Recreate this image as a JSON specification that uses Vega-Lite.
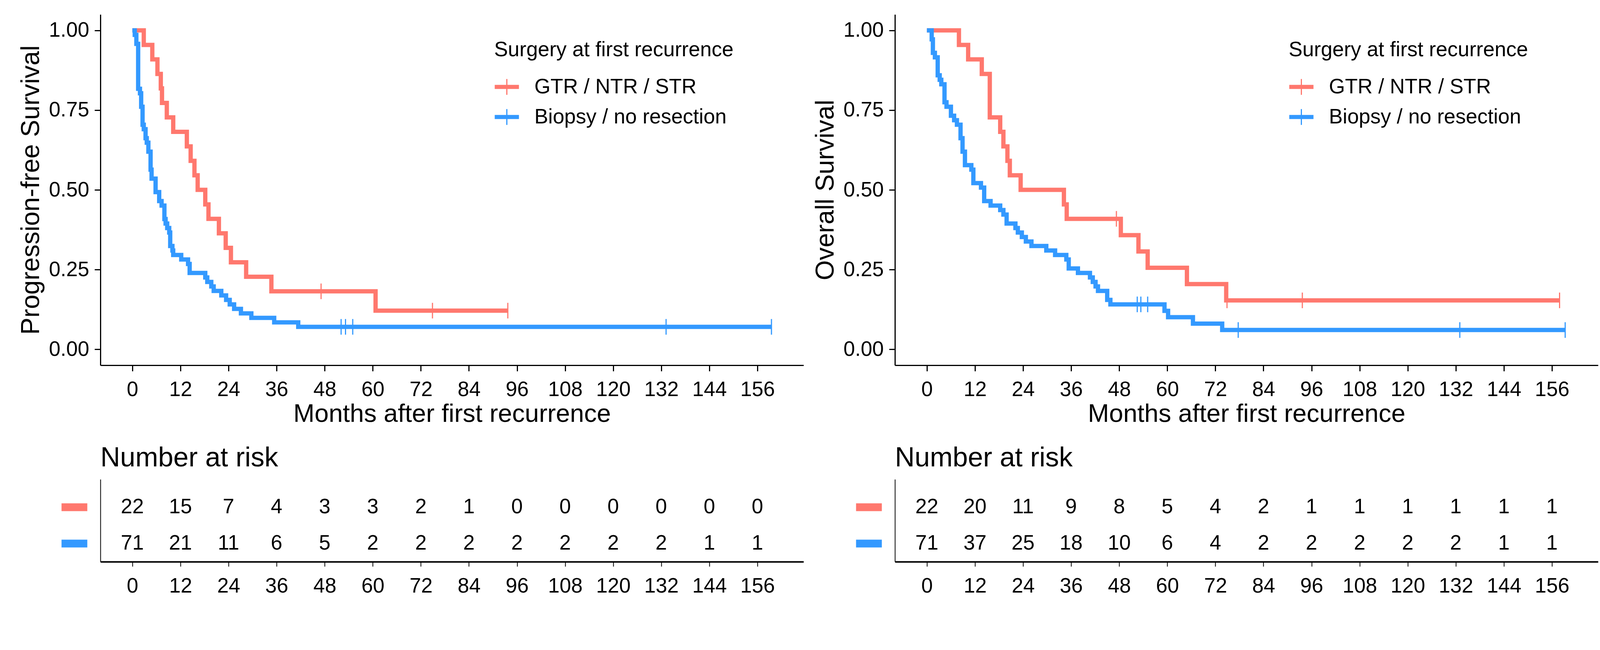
{
  "$schema": "https://vega.github.io/schema/vega-lite/v6.json",
  "background": "white",
  "padding": {"left": 46, "top": 37, "right": 10, "bottom": 10},
  "autosize": {"type": "pad"},
  "bounds": "flush",
  "columns": 2,
  "spacing": {"row": 292, "column": 234},
  "resolve": {"scale": {"color": "independent"}, "legend": {"color": "independent"}},
  "config": {
    "font": "Liberation Sans",
    "view": {"stroke": null},
    "axis": {"grid": false, "domainColor": "black", "tickColor": "black", "labelColor": "black", "titleColor": "black", "titleFontWeight": "normal", "labelFont": "Liberation Sans", "titleFont": "Liberation Sans"},
    "legend": {"titleFontWeight": "normal", "titleColor": "black", "labelColor": "black", "titleLimit": 3000, "labelLimit": 3000},
    "title": {"fontWeight": "normal", "color": "black"}
  },
  "datasets": {
    "pfs_km": [
      {"group": "GTR / NTR / STR", "t": 0, "s": 1},
      {"group": "GTR / NTR / STR", "t": 2.85, "s": 0.9545},
      {"group": "GTR / NTR / STR", "t": 4.98, "s": 0.9091},
      {"group": "GTR / NTR / STR", "t": 6.26, "s": 0.8636},
      {"group": "GTR / NTR / STR", "t": 7.1, "s": 0.8182},
      {"group": "GTR / NTR / STR", "t": 7.4, "s": 0.7727},
      {"group": "GTR / NTR / STR", "t": 8.6, "s": 0.7273},
      {"group": "GTR / NTR / STR", "t": 10.2, "s": 0.6818},
      {"group": "GTR / NTR / STR", "t": 13.6, "s": 0.6364},
      {"group": "GTR / NTR / STR", "t": 14.55, "s": 0.5909},
      {"group": "GTR / NTR / STR", "t": 15.5, "s": 0.5455},
      {"group": "GTR / NTR / STR", "t": 16.3, "s": 0.5},
      {"group": "GTR / NTR / STR", "t": 18.2, "s": 0.4545},
      {"group": "GTR / NTR / STR", "t": 19.0, "s": 0.4091},
      {"group": "GTR / NTR / STR", "t": 21.6, "s": 0.3636},
      {"group": "GTR / NTR / STR", "t": 23.3, "s": 0.3182},
      {"group": "GTR / NTR / STR", "t": 24.6, "s": 0.2727},
      {"group": "GTR / NTR / STR", "t": 28.4, "s": 0.2273},
      {"group": "GTR / NTR / STR", "t": 34.7, "s": 0.1818},
      {"group": "GTR / NTR / STR", "t": 60.7, "s": 0.1212},
      {"group": "GTR / NTR / STR", "t": 93.7, "s": 0.1212},
      {"group": "Biopsy / no resection", "t": 0, "s": 1},
      {"group": "Biopsy / no resection", "t": 0.6, "s": 0.9859},
      {"group": "Biopsy / no resection", "t": 1.0, "s": 0.9577},
      {"group": "Biopsy / no resection", "t": 1.45, "s": 0.8169},
      {"group": "Biopsy / no resection", "t": 1.9, "s": 0.8028},
      {"group": "Biopsy / no resection", "t": 2.2, "s": 0.7606},
      {"group": "Biopsy / no resection", "t": 2.55, "s": 0.7042},
      {"group": "Biopsy / no resection", "t": 2.85, "s": 0.6901},
      {"group": "Biopsy / no resection", "t": 3.3, "s": 0.662},
      {"group": "Biopsy / no resection", "t": 3.6, "s": 0.6479},
      {"group": "Biopsy / no resection", "t": 4.0, "s": 0.6197},
      {"group": "Biopsy / no resection", "t": 4.55, "s": 0.5634},
      {"group": "Biopsy / no resection", "t": 4.8, "s": 0.5352},
      {"group": "Biopsy / no resection", "t": 5.8, "s": 0.493},
      {"group": "Biopsy / no resection", "t": 6.7, "s": 0.4648},
      {"group": "Biopsy / no resection", "t": 7.3, "s": 0.4507},
      {"group": "Biopsy / no resection", "t": 8.0, "s": 0.4085},
      {"group": "Biopsy / no resection", "t": 8.3, "s": 0.3944},
      {"group": "Biopsy / no resection", "t": 8.7, "s": 0.3803},
      {"group": "Biopsy / no resection", "t": 9.2, "s": 0.3662},
      {"group": "Biopsy / no resection", "t": 9.45, "s": 0.3239},
      {"group": "Biopsy / no resection", "t": 10.0, "s": 0.3099},
      {"group": "Biopsy / no resection", "t": 10.2, "s": 0.2958},
      {"group": "Biopsy / no resection", "t": 12.2, "s": 0.2817},
      {"group": "Biopsy / no resection", "t": 13.9, "s": 0.2676},
      {"group": "Biopsy / no resection", "t": 14.3, "s": 0.2394},
      {"group": "Biopsy / no resection", "t": 18.2, "s": 0.2254},
      {"group": "Biopsy / no resection", "t": 18.7, "s": 0.2113},
      {"group": "Biopsy / no resection", "t": 19.7, "s": 0.1972},
      {"group": "Biopsy / no resection", "t": 20.3, "s": 0.1831},
      {"group": "Biopsy / no resection", "t": 22.2, "s": 0.169},
      {"group": "Biopsy / no resection", "t": 23.4, "s": 0.1549},
      {"group": "Biopsy / no resection", "t": 24.3, "s": 0.1408},
      {"group": "Biopsy / no resection", "t": 25.4, "s": 0.1268},
      {"group": "Biopsy / no resection", "t": 27.1, "s": 0.1127},
      {"group": "Biopsy / no resection", "t": 29.7, "s": 0.0986},
      {"group": "Biopsy / no resection", "t": 35.4, "s": 0.0845},
      {"group": "Biopsy / no resection", "t": 41.4, "s": 0.0704},
      {"group": "Biopsy / no resection", "t": 159.5, "s": 0.0704}
    ],
    "pfs_cens": [
      {"group": "GTR / NTR / STR", "t": 47.1, "s": 0.1818},
      {"group": "GTR / NTR / STR", "t": 74.9, "s": 0.1212},
      {"group": "GTR / NTR / STR", "t": 93.7, "s": 0.1212},
      {"group": "Biopsy / no resection", "t": 52.1, "s": 0.0704},
      {"group": "Biopsy / no resection", "t": 53.2, "s": 0.0704},
      {"group": "Biopsy / no resection", "t": 55.0, "s": 0.0704},
      {"group": "Biopsy / no resection", "t": 133.2, "s": 0.0704},
      {"group": "Biopsy / no resection", "t": 159.5, "s": 0.0704}
    ],
    "os_km": [
      {"group": "GTR / NTR / STR", "t": 0, "s": 1},
      {"group": "GTR / NTR / STR", "t": 8.0, "s": 0.9545},
      {"group": "GTR / NTR / STR", "t": 10.3, "s": 0.9091},
      {"group": "GTR / NTR / STR", "t": 13.7, "s": 0.8636},
      {"group": "GTR / NTR / STR", "t": 15.7, "s": 0.7273},
      {"group": "GTR / NTR / STR", "t": 18.3, "s": 0.6818},
      {"group": "GTR / NTR / STR", "t": 19.1, "s": 0.6364},
      {"group": "GTR / NTR / STR", "t": 20.1, "s": 0.5909},
      {"group": "GTR / NTR / STR", "t": 20.7, "s": 0.5455},
      {"group": "GTR / NTR / STR", "t": 23.4, "s": 0.5},
      {"group": "GTR / NTR / STR", "t": 34.2, "s": 0.4545},
      {"group": "GTR / NTR / STR", "t": 34.9, "s": 0.4091},
      {"group": "GTR / NTR / STR", "t": 48.4, "s": 0.358},
      {"group": "GTR / NTR / STR", "t": 52.8, "s": 0.3068},
      {"group": "GTR / NTR / STR", "t": 55.1, "s": 0.2557},
      {"group": "GTR / NTR / STR", "t": 64.9, "s": 0.2045},
      {"group": "GTR / NTR / STR", "t": 74.7, "s": 0.1534},
      {"group": "GTR / NTR / STR", "t": 157.9, "s": 0.1534},
      {"group": "Biopsy / no resection", "t": 0, "s": 1},
      {"group": "Biopsy / no resection", "t": 1.2, "s": 0.9718},
      {"group": "Biopsy / no resection", "t": 1.5, "s": 0.9296},
      {"group": "Biopsy / no resection", "t": 2.0, "s": 0.9155},
      {"group": "Biopsy / no resection", "t": 2.7, "s": 0.8592},
      {"group": "Biopsy / no resection", "t": 3.2, "s": 0.8451},
      {"group": "Biopsy / no resection", "t": 3.6, "s": 0.831},
      {"group": "Biopsy / no resection", "t": 4.4, "s": 0.7746},
      {"group": "Biopsy / no resection", "t": 4.9, "s": 0.7606},
      {"group": "Biopsy / no resection", "t": 6.0, "s": 0.7324},
      {"group": "Biopsy / no resection", "t": 6.8, "s": 0.7183},
      {"group": "Biopsy / no resection", "t": 7.5, "s": 0.7042},
      {"group": "Biopsy / no resection", "t": 8.4, "s": 0.662},
      {"group": "Biopsy / no resection", "t": 8.9, "s": 0.6197},
      {"group": "Biopsy / no resection", "t": 9.5, "s": 0.5775},
      {"group": "Biopsy / no resection", "t": 11.1, "s": 0.5634},
      {"group": "Biopsy / no resection", "t": 11.6, "s": 0.5211},
      {"group": "Biopsy / no resection", "t": 13.5, "s": 0.507},
      {"group": "Biopsy / no resection", "t": 14.3, "s": 0.4648},
      {"group": "Biopsy / no resection", "t": 15.9, "s": 0.4507},
      {"group": "Biopsy / no resection", "t": 18.3, "s": 0.4366},
      {"group": "Biopsy / no resection", "t": 19.1, "s": 0.4225},
      {"group": "Biopsy / no resection", "t": 19.9, "s": 0.3944},
      {"group": "Biopsy / no resection", "t": 22.1, "s": 0.3803},
      {"group": "Biopsy / no resection", "t": 22.7, "s": 0.3662},
      {"group": "Biopsy / no resection", "t": 23.7, "s": 0.3521},
      {"group": "Biopsy / no resection", "t": 24.7, "s": 0.338},
      {"group": "Biopsy / no resection", "t": 26.1, "s": 0.3239},
      {"group": "Biopsy / no resection", "t": 29.8, "s": 0.3099},
      {"group": "Biopsy / no resection", "t": 32.0, "s": 0.2958},
      {"group": "Biopsy / no resection", "t": 34.8, "s": 0.2817},
      {"group": "Biopsy / no resection", "t": 35.4, "s": 0.2535},
      {"group": "Biopsy / no resection", "t": 37.7, "s": 0.2394},
      {"group": "Biopsy / no resection", "t": 40.7, "s": 0.2254},
      {"group": "Biopsy / no resection", "t": 41.4, "s": 0.2113},
      {"group": "Biopsy / no resection", "t": 42.1, "s": 0.1972},
      {"group": "Biopsy / no resection", "t": 42.7, "s": 0.1831},
      {"group": "Biopsy / no resection", "t": 45.0, "s": 0.1549},
      {"group": "Biopsy / no resection", "t": 45.8, "s": 0.1408},
      {"group": "Biopsy / no resection", "t": 59.3, "s": 0.1207},
      {"group": "Biopsy / no resection", "t": 60.2, "s": 0.1006},
      {"group": "Biopsy / no resection", "t": 66.4, "s": 0.0805},
      {"group": "Biopsy / no resection", "t": 73.7, "s": 0.0604},
      {"group": "Biopsy / no resection", "t": 159.3, "s": 0.0604}
    ],
    "os_cens": [
      {"group": "GTR / NTR / STR", "t": 47.3, "s": 0.4091},
      {"group": "GTR / NTR / STR", "t": 74.9, "s": 0.1534},
      {"group": "GTR / NTR / STR", "t": 93.7, "s": 0.1534},
      {"group": "GTR / NTR / STR", "t": 157.9, "s": 0.1534},
      {"group": "Biopsy / no resection", "t": 52.5, "s": 0.1408},
      {"group": "Biopsy / no resection", "t": 53.4, "s": 0.1408},
      {"group": "Biopsy / no resection", "t": 55.1, "s": 0.1408},
      {"group": "Biopsy / no resection", "t": 77.7, "s": 0.0604},
      {"group": "Biopsy / no resection", "t": 133.0, "s": 0.0604},
      {"group": "Biopsy / no resection", "t": 159.3, "s": 0.0604}
    ],
    "pfs_risk": [
      {"group": "GTR / NTR / STR", "t": 0, "n": 22},
      {"group": "GTR / NTR / STR", "t": 12, "n": 15},
      {"group": "GTR / NTR / STR", "t": 24, "n": 7},
      {"group": "GTR / NTR / STR", "t": 36, "n": 4},
      {"group": "GTR / NTR / STR", "t": 48, "n": 3},
      {"group": "GTR / NTR / STR", "t": 60, "n": 3},
      {"group": "GTR / NTR / STR", "t": 72, "n": 2},
      {"group": "GTR / NTR / STR", "t": 84, "n": 1},
      {"group": "GTR / NTR / STR", "t": 96, "n": 0},
      {"group": "GTR / NTR / STR", "t": 108, "n": 0},
      {"group": "GTR / NTR / STR", "t": 120, "n": 0},
      {"group": "GTR / NTR / STR", "t": 132, "n": 0},
      {"group": "GTR / NTR / STR", "t": 144, "n": 0},
      {"group": "GTR / NTR / STR", "t": 156, "n": 0},
      {"group": "Biopsy / no resection", "t": 0, "n": 71},
      {"group": "Biopsy / no resection", "t": 12, "n": 21},
      {"group": "Biopsy / no resection", "t": 24, "n": 11},
      {"group": "Biopsy / no resection", "t": 36, "n": 6},
      {"group": "Biopsy / no resection", "t": 48, "n": 5},
      {"group": "Biopsy / no resection", "t": 60, "n": 2},
      {"group": "Biopsy / no resection", "t": 72, "n": 2},
      {"group": "Biopsy / no resection", "t": 84, "n": 2},
      {"group": "Biopsy / no resection", "t": 96, "n": 2},
      {"group": "Biopsy / no resection", "t": 108, "n": 2},
      {"group": "Biopsy / no resection", "t": 120, "n": 2},
      {"group": "Biopsy / no resection", "t": 132, "n": 2},
      {"group": "Biopsy / no resection", "t": 144, "n": 1},
      {"group": "Biopsy / no resection", "t": 156, "n": 1}
    ],
    "os_risk": [
      {"group": "GTR / NTR / STR", "t": 0, "n": 22},
      {"group": "GTR / NTR / STR", "t": 12, "n": 20},
      {"group": "GTR / NTR / STR", "t": 24, "n": 11},
      {"group": "GTR / NTR / STR", "t": 36, "n": 9},
      {"group": "GTR / NTR / STR", "t": 48, "n": 8},
      {"group": "GTR / NTR / STR", "t": 60, "n": 5},
      {"group": "GTR / NTR / STR", "t": 72, "n": 4},
      {"group": "GTR / NTR / STR", "t": 84, "n": 2},
      {"group": "GTR / NTR / STR", "t": 96, "n": 1},
      {"group": "GTR / NTR / STR", "t": 108, "n": 1},
      {"group": "GTR / NTR / STR", "t": 120, "n": 1},
      {"group": "GTR / NTR / STR", "t": 132, "n": 1},
      {"group": "GTR / NTR / STR", "t": 144, "n": 1},
      {"group": "GTR / NTR / STR", "t": 156, "n": 1},
      {"group": "Biopsy / no resection", "t": 0, "n": 71},
      {"group": "Biopsy / no resection", "t": 12, "n": 37},
      {"group": "Biopsy / no resection", "t": 24, "n": 25},
      {"group": "Biopsy / no resection", "t": 36, "n": 18},
      {"group": "Biopsy / no resection", "t": 48, "n": 10},
      {"group": "Biopsy / no resection", "t": 60, "n": 6},
      {"group": "Biopsy / no resection", "t": 72, "n": 4},
      {"group": "Biopsy / no resection", "t": 84, "n": 2},
      {"group": "Biopsy / no resection", "t": 96, "n": 2},
      {"group": "Biopsy / no resection", "t": 108, "n": 2},
      {"group": "Biopsy / no resection", "t": 120, "n": 2},
      {"group": "Biopsy / no resection", "t": 132, "n": 2},
      {"group": "Biopsy / no resection", "t": 144, "n": 1},
      {"group": "Biopsy / no resection", "t": 156, "n": 1}
    ]
  },
  "concat": [
    {
      "width": 1800, "height": 898,
      "layer": [
        {
          "data": {"name": "pfs_km"},
          "mark": {"type": "line", "interpolate": "step-after", "strokeWidth": 11, "strokeCap": "butt"},
          "encoding": {
            "x": {"field": "t", "type": "quantitative", "scale": {"domain": [-7.975, 167.5], "nice": false, "zero": false},
                  "axis": {"values": [0,12,24,36,48,60,72,84,96,108,120,132,144,156], "title": "Months after first recurrence", "titleFontSize": 65, "titlePadding": 4, "labelFontSize": 53, "labelPadding": 21, "tickSize": 15, "tickWidth": 3, "domainWidth": 3, "labelFlush": false, "labelOverlap": false}},
            "y": {"field": "s", "type": "quantitative", "scale": {"domain": [-0.05, 1.05], "nice": false, "zero": false},
                  "axis": {"values": [0, 0.25, 0.5, 0.75, 1], "format": ".2f", "title": "Progression-free Survival", "titleFontSize": 66, "titlePadding": 11, "labelFontSize": 53, "labelPadding": 14, "tickSize": 15, "tickWidth": 3, "domainWidth": 3, "labelFlush": false, "labelOverlap": false}},
            "color": {"field": "group", "type": "nominal",
                      "scale": {"domain": ["GTR / NTR / STR", "Biopsy / no resection"], "range": ["#FF786E", "#3399FF"]},
                      "legend": {"title": "Surgery at first recurrence", "orient": "none", "legendX": 1008, "legendY": 65, "padding": 0,
                                 "symbolType": "M-1,-0.12H1M-1,-0.04H1M-1,0.04H1M-1,0.12H1M0,-0.65V0.65", "symbolSize": 3844, "symbolStrokeWidth": 3,
                                 "labelFontSize": 53, "titleFontSize": 53, "titlePadding": 35, "rowPadding": 17, "labelOffset": 38}}
          }
        },
        {
          "data": {"name": "pfs_cens"},
          "mark": {"type": "tick", "orient": "vertical", "size": 40, "thickness": 3, "opacity": 1},
          "encoding": {
            "x": {"field": "t", "type": "quantitative"},
            "y": {"field": "s", "type": "quantitative"},
            "color": {"field": "group", "type": "nominal"}
          }
        }
      ]
    },
    {
      "width": 1800, "height": 898,
      "layer": [
        {
          "data": {"name": "os_km"},
          "mark": {"type": "line", "interpolate": "step-after", "strokeWidth": 11, "strokeCap": "butt"},
          "encoding": {
            "x": {"field": "t", "type": "quantitative", "scale": {"domain": [-7.975, 167.5], "nice": false, "zero": false},
                  "axis": {"values": [0,12,24,36,48,60,72,84,96,108,120,132,144,156], "title": "Months after first recurrence", "titleFontSize": 65, "titlePadding": 4, "labelFontSize": 53, "labelPadding": 21, "tickSize": 15, "tickWidth": 3, "domainWidth": 3, "labelFlush": false, "labelOverlap": false}},
            "y": {"field": "s", "type": "quantitative", "scale": {"domain": [-0.05, 1.05], "nice": false, "zero": false},
                  "axis": {"values": [0, 0.25, 0.5, 0.75, 1], "format": ".2f", "title": "Overall Survival", "titleFontSize": 66, "titlePadding": 11, "labelFontSize": 53, "labelPadding": 14, "tickSize": 15, "tickWidth": 3, "domainWidth": 3, "labelFlush": false, "labelOverlap": false}},
            "color": {"field": "group", "type": "nominal",
                      "scale": {"domain": ["GTR / NTR / STR", "Biopsy / no resection"], "range": ["#FF786E", "#3399FF"]},
                      "legend": {"title": "Surgery at first recurrence", "orient": "none", "legendX": 1008, "legendY": 65, "padding": 0,
                                 "symbolType": "M-1,-0.12H1M-1,-0.04H1M-1,0.04H1M-1,0.12H1M0,-0.65V0.65", "symbolSize": 3844, "symbolStrokeWidth": 3,
                                 "labelFontSize": 53, "titleFontSize": 53, "titlePadding": 35, "rowPadding": 17, "labelOffset": 38}}
          }
        },
        {
          "data": {"name": "os_cens"},
          "mark": {"type": "tick", "orient": "vertical", "size": 40, "thickness": 3, "opacity": 1},
          "encoding": {
            "x": {"field": "t", "type": "quantitative"},
            "y": {"field": "s", "type": "quantitative"},
            "color": {"field": "group", "type": "nominal"}
          }
        }
      ]
    },
    {
      "width": 1800, "height": 211,
      "data": {"name": "pfs_risk"},
      "title": {"text": "Number at risk", "anchor": "start", "frame": "group", "fontSize": 70, "baseline": "alphabetic", "offset": -37, "font": "Liberation Sans"},
      "mark": {"type": "text", "fontSize": 53, "color": "black", "baseline": "middle", "align": "center"},
      "encoding": {
        "x": {"field": "t", "type": "quantitative", "scale": {"domain": [-7.975, 167.5], "nice": false, "zero": false},
              "axis": {"values": [0,12,24,36,48,60,72,84,96,108,120,132,144,156], "title": null, "tickSize": 12, "tickWidth": 2, "domainWidth": 4, "labelFontSize": 53, "labelPadding": 24, "labelFlush": false, "labelOverlap": false}},
        "y": {"field": "group", "type": "ordinal",
              "scale": {"type": "point", "domain": ["GTR / NTR / STR", "Biopsy / no resection"], "padding": 0.64, "align": 0.6},
              "axis": {"title": null, "labels": false, "tickSize": 100, "tickWidth": 20, "tickDash": [0, 34, 66, 300], "tickCap": "butt",
                       "tickColor": {"condition": {"test": "datum.value === 'GTR / NTR / STR'", "value": "#FF786E"}, "value": "#3399FF"}, "domainWidth": 2}},
        "text": {"field": "n", "type": "quantitative"}
      }
    },
    {
      "width": 1800, "height": 211,
      "data": {"name": "os_risk"},
      "title": {"text": "Number at risk", "anchor": "start", "frame": "group", "fontSize": 70, "baseline": "alphabetic", "offset": -37, "font": "Liberation Sans"},
      "mark": {"type": "text", "fontSize": 53, "color": "black", "baseline": "middle", "align": "center"},
      "encoding": {
        "x": {"field": "t", "type": "quantitative", "scale": {"domain": [-7.975, 167.5], "nice": false, "zero": false},
              "axis": {"values": [0,12,24,36,48,60,72,84,96,108,120,132,144,156], "title": null, "tickSize": 12, "tickWidth": 2, "domainWidth": 4, "labelFontSize": 53, "labelPadding": 24, "labelFlush": false, "labelOverlap": false}},
        "y": {"field": "group", "type": "ordinal",
              "scale": {"type": "point", "domain": ["GTR / NTR / STR", "Biopsy / no resection"], "padding": 0.64, "align": 0.6},
              "axis": {"title": null, "labels": false, "tickSize": 100, "tickWidth": 20, "tickDash": [0, 34, 66, 300], "tickCap": "butt",
                       "tickColor": {"condition": {"test": "datum.value === 'GTR / NTR / STR'", "value": "#FF786E"}, "value": "#3399FF"}, "domainWidth": 2}},
        "text": {"field": "n", "type": "quantitative"}
      }
    }
  ]
}
